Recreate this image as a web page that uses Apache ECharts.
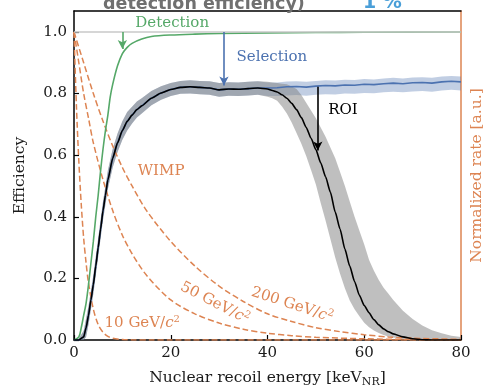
<!DOCTYPE html>
<html><head><meta charset="utf-8">
<script src="https://cdn.jsdelivr.net/npm/echarts/dist/echarts.min.js"></script>
<style>html,body{margin:0;padding:0;background:#fff}#c{width:484px;height:390px}</style>
</head><body><div id="c"></div>
<script>
// ---------- data ----------
const xTicks = [0, 20, 40, 60, 80];
const yTicks = [0.0, 0.2, 0.4, 0.6, 0.8, 1.0];

// Detection efficiency (green)
const detE = [0,1,1.5,2,2.5,3,3.5,4,4.5,5,5.5,6,6.5,7,7.5,8,9,10,11,12,14,16,20,25,30,40,50,60,80];
const detV = [0,0.01,0.04,0.08,0.12,0.18,0.25,0.32,0.4,0.47,0.55,0.62,0.68,0.73,0.79,0.83,0.89,0.93,0.95,0.963,0.977,0.985,0.99,0.993,0.995,0.997,0.998,0.999,1.0];

// ROI efficiency (black) with uncertainty band (grey)
const roiE  = [0,1,2,2.5,3,3.5,4,4.5,5,5.5,6,6.5,7,8,9,10,11,12,13,14,16,18,20,22,24,26,28,30,32,34,36,38,40,41,42,43,44,45,46,47,48,49,50,51,52,53,54,55,56,57,58,59,60,61,62,63,64,65,66,68,70,72,74,76,78,80];
const roiV  = [0,0,0.01,0.04,0.08,0.13,0.18,0.24,0.3,0.36,0.42,0.47,0.52,0.59,0.64,0.68,0.71,0.73,0.748,0.76,0.785,0.802,0.813,0.82,0.822,0.82,0.818,0.812,0.815,0.814,0.816,0.818,0.815,0.81,0.805,0.796,0.785,0.768,0.748,0.722,0.69,0.655,0.618,0.575,0.53,0.48,0.415,0.36,0.295,0.24,0.19,0.145,0.112,0.088,0.066,0.049,0.036,0.027,0.02,0.01,0.004,0.001,0,0,0,0];
const roiLo = [0,0,0,0.01,0.05,0.1,0.15,0.21,0.27,0.33,0.39,0.44,0.49,0.56,0.61,0.65,0.68,0.703,0.722,0.735,0.762,0.78,0.792,0.799,0.8,0.798,0.796,0.79,0.793,0.792,0.794,0.796,0.79,0.785,0.777,0.758,0.735,0.706,0.672,0.637,0.597,0.552,0.505,0.445,0.388,0.328,0.268,0.215,0.168,0.128,0.1,0.077,0.056,0.041,0.031,0.023,0.016,0.011,0.008,0.003,0.001,0,0,0,0,0];
const roiHi = [0,0.005,0.03,0.07,0.11,0.16,0.21,0.27,0.33,0.39,0.45,0.5,0.55,0.62,0.67,0.71,0.74,0.757,0.774,0.785,0.808,0.824,0.834,0.841,0.843,0.841,0.84,0.834,0.837,0.836,0.838,0.84,0.838,0.836,0.834,0.832,0.83,0.823,0.815,0.795,0.77,0.745,0.72,0.69,0.66,0.625,0.59,0.545,0.5,0.45,0.4,0.355,0.31,0.26,0.225,0.195,0.17,0.15,0.13,0.095,0.068,0.047,0.032,0.022,0.014,0.01];

// Selection efficiency (blue) with band (light blue)
const selE  = [0,1,2,2.5,3,3.5,4,4.5,5,5.5,6,6.5,7,8,9,10,11,12,13,14,16,18,20,22,24,26,28,30,32,34,36,38,40,42,44,46,48,50,52,54,56,58,60,62,64,66,68,70,72,74,76,78,80];
const selV  = [0,0,0.01,0.04,0.08,0.13,0.18,0.24,0.3,0.36,0.42,0.47,0.52,0.59,0.64,0.68,0.71,0.73,0.748,0.76,0.785,0.802,0.813,0.82,0.822,0.82,0.818,0.812,0.815,0.814,0.816,0.818,0.818,0.819,0.822,0.823,0.821,0.824,0.826,0.825,0.828,0.827,0.83,0.829,0.832,0.834,0.832,0.835,0.836,0.834,0.838,0.84,0.838];
const selLo = [0,0,0,0.01,0.05,0.1,0.15,0.21,0.27,0.33,0.39,0.44,0.49,0.56,0.61,0.65,0.68,0.703,0.722,0.735,0.762,0.78,0.792,0.799,0.8,0.798,0.796,0.79,0.793,0.792,0.794,0.796,0.792,0.792,0.794,0.795,0.793,0.796,0.798,0.797,0.8,0.799,0.802,0.801,0.804,0.806,0.804,0.807,0.808,0.806,0.81,0.812,0.81];
const selHi = [0,0.005,0.03,0.07,0.11,0.16,0.21,0.27,0.33,0.39,0.45,0.5,0.55,0.62,0.67,0.71,0.74,0.757,0.774,0.785,0.808,0.824,0.834,0.841,0.843,0.841,0.84,0.834,0.837,0.836,0.838,0.84,0.836,0.836,0.839,0.84,0.838,0.841,0.843,0.842,0.845,0.844,0.847,0.846,0.849,0.851,0.849,0.852,0.853,0.851,0.855,0.857,0.855];

// WIMP recoil spectra (normalized rate, orange dashed)
const w10E  = [0,0.5,1,1.5,2,2.5,3,4,5,6,7,8,10,12,16,20,80];
const w10V  = [1.0,0.76,0.58,0.44,0.33,0.25,0.185,0.1,0.05,0.025,0.012,0.006,0.0015,0.0004,0,0,0];
const w50E  = [0,1,2,3,4,6,8,10,12,15,20,25,30,35,40,45,50,60,70,80];
const w50V  = [1.0,0.9,0.8,0.72,0.64,0.52,0.42,0.34,0.28,0.21,0.13,0.085,0.055,0.035,0.022,0.014,0.009,0.004,0.0015,0.0005];
const w200E = [0,2,4,6,8,10,12,15,20,25,30,35,40,45,50,55,60,65,70,80];
const w200V = [1.0,0.9,0.8,0.71,0.63,0.56,0.5,0.42,0.32,0.24,0.175,0.125,0.085,0.06,0.04,0.027,0.017,0.01,0.006,0.002];

// Annotation arrows [x, yFrom, yTo]
const arrowDet = [10, 1.0, 0.945];
const arrowSel = [31, 1.0, 0.826];
const arrowRoi = [50.4, 0.822, 0.615];

// ---------- style ----------
const C_GREEN = '#55a868', C_BLUE = '#4c72b0', C_ORANGE = '#dd8452';
const SERIF = 'DejaVu Serif';

function pairs(E, V) { return E.map((e, i) => [e, V[i]]); }

function band(E, lo, hi, color) {
  return { type: 'custom', data: pairs(E, hi), silent: true, z: 1, clip: true,
    encode: { x: 0, y: 1 },
    renderItem: (params, api) => {
      if (params.dataIndex !== 0) return null;
      const pts = [];
      for (let i = 0; i < E.length; i++) pts.push(api.coord([E[i], hi[i]]));
      for (let i = E.length - 1; i >= 0; i--) pts.push(api.coord([E[i], lo[i]]));
      return { type: 'polygon', shape: { points: pts }, style: { fill: color, stroke: null } };
    } };
}
function arrow(a, color) {
  return { type: 'line', data: [], symbol: 'none', silent: true, z: 6,
    markLine: { silent: true, symbol: ['none', 'arrow'], symbolSize: [7, 9], animation: false,
      label: { show: false }, lineStyle: { color: color, width: 1.6, type: 'solid' },
      data: [[{ coord: [a[0], a[1]] }, { coord: [a[0], a[2]] }]] } };
}
function wimp(E, V) {
  return { type: 'line', data: pairs(E, V), yAxisIndex: 1, symbol: 'none', smooth: 0.3, z: 3,
    lineStyle: { color: C_ORANGE, width: 1.5, type: [6, 3] } };
}

const chart = echarts.init(document.getElementById('c'), null, { renderer: 'canvas' });
const yFmt = v => (Math.abs(v * 5 - Math.round(v * 5)) < 1e-6 && v <= 1.0001) ? v.toFixed(1) : '';
const option = {
  animation: false,
  backgroundColor: '#fff',
  grid: { left: 74, right: 23, top: 11, bottom: 50, containLabel: false, outerBoundsMode: 'none' },
  xAxis: [
    { type: 'value', min: 0, max: 80, interval: 20, position: 'bottom',
      axisLine: { onZero: false, lineStyle: { color: '#000', width: 1.5 } },
      axisTick: { inside: true, length: 5, lineStyle: { color: '#000', width: 1.2 } },
      axisLabel: { color: '#1a1a1a', fontFamily: SERIF, fontSize: 15, margin: 6 },
      splitLine: { show: false },
      name: 'Nuclear recoil energy [keV{sub|NR}]', nameLocation: 'middle', nameGap: 28,
      nameTextStyle: { color: '#1a1a1a', fontFamily: SERIF, fontSize: 15.5,
        rich: { sub: { fontFamily: SERIF, fontSize: 11, color: '#1a1a1a', padding: [9, 0, 0, 0] } } } },
    { type: 'value', min: 0, max: 80, position: 'top',
      axisLine: { onZero: false, lineStyle: { color: '#000', width: 1.5 } },
      axisTick: { show: false }, axisLabel: { show: false }, splitLine: { show: false } }
  ],
  yAxis: [
    { type: 'value', min: 0, max: 1.068, interval: 0.2, position: 'left',
      axisLine: { onZero: false, lineStyle: { color: '#000', width: 1.5 } },
      axisTick: { inside: true, length: 5, lineStyle: { color: '#000', width: 1.2 } },
      axisLabel: { color: '#1a1a1a', fontFamily: SERIF, fontSize: 15, margin: 7, formatter: yFmt, showMaxLabel: false },
      splitLine: { show: false },
      name: 'Efficiency', nameLocation: 'middle', nameGap: 46,
      nameTextStyle: { color: '#1a1a1a', fontFamily: SERIF, fontSize: 15.5 } },
    { type: 'value', min: 0, max: 1.068, position: 'right',
      axisLine: { show: true, onZero: false, lineStyle: { color: C_ORANGE, width: 1.5 } },
      axisTick: { show: false }, axisLabel: { show: false }, splitLine: { show: false },
      name: 'Normalized rate [a.u.]', nameLocation: 'middle', nameGap: 8, nameRotate: 90,
      nameTextStyle: { color: C_ORANGE, fontFamily: SERIF, fontSize: 15.5, verticalAlign: 'top' } }
  ],
  series: [
    { type: 'line', data: [], symbol: 'none', silent: true, z: 0,
      markLine: { silent: true, symbol: 'none', label: { show: false }, animation: false,
        lineStyle: { color: '#c8c8c8', width: 1.5, type: 'solid' }, data: [{ yAxis: 1.0 }] } },
    band(selE, selLo, selHi, 'rgba(76,114,176,0.35)'),
    band(roiE, roiLo, roiHi, 'rgba(128,128,128,0.5)'),
    wimp(w10E, w10V), wimp(w50E, w50V), wimp(w200E, w200V),
    { type: 'line', data: pairs(detE, detV), symbol: 'none', smooth: 0.3, z: 4,
      lineStyle: { color: C_GREEN, width: 1.6 } },
    { type: 'line', data: pairs(selE, selV), symbol: 'none', z: 4,
      lineStyle: { color: C_BLUE, width: 1.6 } },
    { type: 'line', data: pairs(roiE, roiV), symbol: 'none', smooth: 0.2, smoothMonotone: 'x', z: 5,
      lineStyle: { color: '#000', width: 1.6 } },
    arrow(arrowDet, C_GREEN), arrow(arrowSel, C_BLUE), arrow(arrowRoi, '#000')
  ]
};
chart.setOption(option);

// ---------- text annotations (placed in data coordinates) ----------
const labels = [
  { t: 'Detection', at: [20.3, 1.029], color: C_GREEN, rot: 0 },
  { t: 'Selection', at: [40.9, 0.919], color: C_BLUE, rot: 0 },
  { t: 'ROI', at: [55.6, 0.747], color: '#000', rot: 0 },
  { t: 'WIMP', at: [18.0, 0.549], color: C_ORANGE, rot: 0 },
  { t: '10 GeV/{i|c}{s|2}', at: [14.1, 0.055], color: C_ORANGE, rot: 0 },
  { t: '50 GeV/{i|c}{s|2}', at: [29.1, 0.12], color: C_ORANGE, rot: -27 },
  { t: '200 GeV/{i|c}{s|2}', at: [45.1, 0.114], color: C_ORANGE, rot: -18 }
];
const g = labels.map(l => {
  const p = chart.convertToPixel({ xAxisIndex: 0, yAxisIndex: 0 }, l.at);
  return { type: 'text', x: p[0], y: p[1], rotation: l.rot * Math.PI / 180, z: 10,
    style: { text: l.t, fill: l.color, font: '15px "DejaVu Serif"', align: 'center', verticalAlign: 'middle',
      rich: { i: { fontFamily: SERIF, fontStyle: 'italic', fontSize: 15, fill: l.color, color: l.color },
              s: { fontFamily: SERIF, fontSize: 10, fill: l.color, color: l.color, padding: [0, 0, 8, 0] } } } };
});
g.push({ type: 'text', x: 103, y: 13, z: 10,
  style: { text: 'detection efficiency)', fill: '#707070', font: 'bold 17.5px "DejaVu Sans"', align: 'left', verticalAlign: 'bottom' } });
g.push({ type: 'text', x: 363, y: 13, z: 10,
  style: { text: '1 %', fill: '#4a9fd8', font: 'bold 19px "DejaVu Sans"', align: 'left', verticalAlign: 'bottom' } });
chart.setOption({ graphic: g });
</script>
</body></html>
